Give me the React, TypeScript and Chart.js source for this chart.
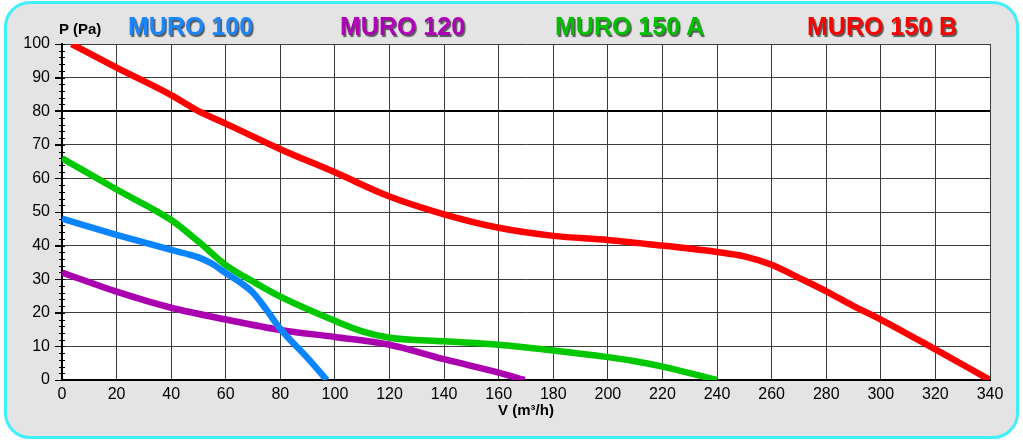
import React, { useEffect, useRef } from "react";
import { Chart, registerables } from "chart.js";

Chart.register(...registerables);

// ---- data ----
const seriesNames = ["MURO 100", "MURO 120", "MURO 150 A", "MURO 150 B"];

const muro100V = [0, 20, 40, 50, 55, 60, 65, 70, 75, 80, 90, 97];
const muro100P = [48, 43.2, 38.7, 36.5, 34.6, 31.8, 29.2, 26, 20.8, 15.2, 6.5, 0];

const muro120V = [0, 20, 40, 60, 80, 100, 120, 140, 160, 169.5];
const muro120P = [32, 26.3, 21.5, 18, 14.9, 12.8, 10.5, 6.2, 2.2, 0];

const muro150AV = [0, 20, 40, 50, 60, 70, 80, 100, 110, 120, 140, 160, 180, 200, 210, 220, 240];
const muro150AP = [66, 56.7, 47.6, 41.2, 34.2, 29.3, 24.8, 17.6, 14.5, 12.6, 11.5, 10.5, 8.8, 6.8, 5.6, 4, 0];

const muro150BV = [3.5, 20, 40, 50, 60, 80, 100, 120, 140, 160, 180, 200, 220, 240, 250, 260, 270, 280, 290, 300, 320, 340];
const muro150BP = [100, 93, 84.8, 80, 76.3, 68.7, 61.8, 54.6, 49.3, 45.3, 42.9, 41.7, 40, 38.1, 36.8, 34.3, 30.4, 26.4, 22, 18, 9.1, 0];

const xMin = 0;
const xMax = 340;
const xStep = 20;
const yMin = 0;
const yMax = 100;
const yStep = 10;
const yMinorStep = 2;

const xTitle = "V (m\u00B3/h)";
const yTitle = "P (Pa)";

const colors = ["#0a84ff", "#aa00b0", "#00c800", "#ff0000"];
const titleColors = ["#1a86ff", "#b000b8", "#00c000", "#ff0000"];
const titleLeft = [128, 340, 555, 807];

const FONT = '"Liberation Sans", Arial, Helvetica, sans-serif';

function pts(v: number[], p: number[]) {
  return v.map((x, i) => ({ x, y: p[i] }));
}

export default function App() {
  const ref = useRef<HTMLCanvasElement>(null);

  useEffect(() => {
    if (!ref.current) return;
    Chart.defaults.font.family = FONT;

    const bgPlugin = {
      id: "plotBg",
      beforeDraw(chart: any) {
        const { ctx, chartArea } = chart;
        ctx.save();
        ctx.fillStyle = "#ffffff";
        ctx.fillRect(chartArea.left, chartArea.top, chartArea.right - chartArea.left, chartArea.bottom - chartArea.top);
        ctx.restore();
      },
      beforeDatasetsDraw(chart: any) {
        const { ctx } = chart;
        const ys = chart.scales.y;
        const x0 = chart.scales.x.getPixelForValue(0);
        ctx.save();
        ctx.strokeStyle = "#000";
        ctx.lineWidth = 1;
        for (let v = yMin; v <= yMax; v += yMinorStep) {
          const py = Math.round(ys.getPixelForValue(v)) + 0.5;
          const major = v % yStep === 0;
          ctx.beginPath();
          ctx.moveTo(x0 - (major ? 7 : 3), py);
          ctx.lineTo(x0 + 3, py);
          ctx.stroke();
        }
        ctx.restore();
      },
    };

    const datasetsV = [muro100V, muro120V, muro150AV, muro150BV];
    const datasetsP = [muro100P, muro120P, muro150AP, muro150BP];

    const chart = new Chart(ref.current, {
      type: "line",
      data: {
        datasets: seriesNames.map((name, i) => ({
          label: name,
          data: pts(datasetsV[i], datasetsP[i]),
          borderColor: colors[i],
          backgroundColor: colors[i],
          borderWidth: 6.5,
          pointRadius: 0,
          fill: false,
          cubicInterpolationMode: "monotone" as const,
          borderCapStyle: "butt" as const,
          borderJoinStyle: "round" as const,
        })),
      },
      options: {
        animation: false,
        responsive: false,
        devicePixelRatio: 1,
        layout: { padding: { left: 0, right: 33, top: 44, bottom: 0 } },
        plugins: {
          legend: { display: false },
          tooltip: { enabled: false },
        },
        scales: {
          x: {
            type: "linear",
            min: xMin,
            max: xMax,
            ticks: {
              stepSize: xStep,
              color: "#000",
              font: { size: 16, family: FONT },
              padding: 5,
              maxRotation: 0,
            },
            grid: {
              color: "#3c3c3c",
              lineWidth: 1,
              drawTicks: false,
            },
            border: { color: "#000", width: 2 },
            title: {
              display: true,
              text: xTitle,
              color: "#000",
              font: { size: 15, weight: "bold", family: FONT },
              padding: { top: 0, bottom: 20 },
            },
            afterFit(scale: any) {
              scale.height = 60;
            },
          },
          y: {
            type: "linear",
            min: yMin,
            max: yMax,
            ticks: {
              stepSize: yStep,
              color: "#000",
              font: { size: 16, family: FONT },
              padding: 5,
            },
            grid: {
              color: (c: any) => (c.tick && c.tick.value === 80 ? "#000" : "#3c3c3c"),
              lineWidth: (c: any) => (c.tick && c.tick.value === 80 ? 2 : 1),
              tickColor: "#000",
              tickLength: 7,
            },
            border: { color: "#000", width: 2 },
            afterFit(scale: any) {
              scale.width = 62;
            },
          },
        },
      },
      plugins: [bgPlugin],
    } as any);

    return () => chart.destroy();
  }, []);

  return (
    <div
      style={{
        position: "fixed",
        left: 0,
        top: 0,
        width: 1023,
        height: 440,
        background: "#ffffff",
        fontFamily: FONT,
      }}
    >
      <div
        style={{
          position: "absolute",
          left: 4,
          top: 1,
          width: 1015,
          height: 438,
          boxSizing: "border-box",
          border: "3px solid #3ff0fa",
          borderRadius: 26,
          background: "#e4e4e4",
        }}
      />
      <canvas
        ref={ref}
        width={1023}
        height={440}
        style={{ position: "absolute", left: 0, top: 0, width: 1023, height: 440 }}
      />
      <div
        style={{
          position: "absolute",
          left: 59,
          top: 20,
          fontSize: 15,
          lineHeight: "18px",
          fontWeight: "bold",
          color: "#000",
          whiteSpace: "nowrap",
        }}
      >
        {yTitle}
      </div>
      {seriesNames.map((name, i) => (
        <div
          key={name}
          style={{
            position: "absolute",
            left: titleLeft[i],
            top: 12,
            fontSize: 25,
            lineHeight: "29px",
            fontWeight: "bold",
            color: titleColors[i],
            textShadow: "1.5px 1.5px 1px rgba(40,40,40,0.75)",
            whiteSpace: "nowrap",
          }}
        >
          {name}
        </div>
      ))}
    </div>
  );
}
